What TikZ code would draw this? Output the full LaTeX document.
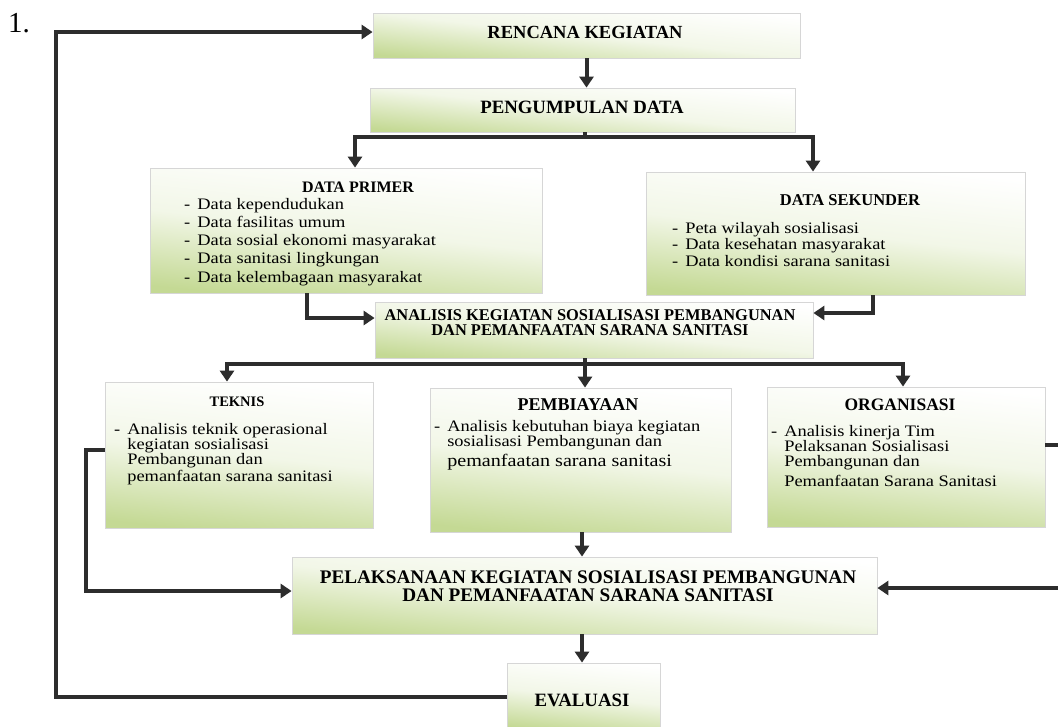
\documentclass[tikz,border=0pt]{standalone}
\usepackage{fontspec}
\setmainfont{Liberation Serif}
\newfontfamily\itemfont[FakeStretch=1.15]{Liberation Serif}
\usetikzlibrary{arrows.meta}
\definecolor{boxgreen}{RGB}{196,217,148}
\definecolor{linegray}{RGB}{45,45,45}
\tikzset{
 box/.style={rectangle, inner sep=0pt, draw=black!16, line width=0.8pt, top color=white, bottom color=boxgreen, middle color=white!78!boxgreen, shading angle=-6},
 ttl/.style={inner sep=0pt, align=center},
 items/.style={inner sep=0pt, anchor=north west, align=left},
 conn/.style={draw=linegray, line width=4pt},
 arr/.style={conn, -{Triangle[width=14pt,length=11pt]}},
}
\begin{document}
\begin{tikzpicture}[x=1pt,y=-1pt]
\useasboundingbox (0,0) rectangle (1058,726);
\clip (0,0) rectangle (1058,726);
\fill[white] (0,0) rectangle (1058,726);

% boxes
\node[box, minimum width=427pt, minimum height=45pt] (rencana) at (586.5,35.5) {};
\node[box, minimum width=425pt, minimum height=44pt] (pengumpulan) at (582.5,110) {};
\node[box, minimum width=392pt, minimum height=125pt] (primer) at (346,230.5) {};
\node[box, minimum width=379pt, minimum height=123pt] (sekunder) at (835.5,233.5) {};
\node[box, minimum width=438pt, minimum height=56pt] (analisis) at (594,330) {};
\node[box, minimum width=268pt, minimum height=146pt] (teknis) at (239,455) {};
\node[box, minimum width=301pt, minimum height=144pt] (pembiayaan) at (580.5,460) {};
\node[box, minimum width=278pt, minimum height=140pt] (organisasi) at (906,457) {};
\node[box, minimum width=585pt, minimum height=77pt] (pelaksanaan) at (584.5,595.5) {};
\node[box, minimum width=153pt, minimum height=67pt] (evaluasi) at (583.5,696.5) {};

% number
\node[inner sep=0pt, font=\fontsize{29}{29}\selectfont] (num) at (19,23) {1.};

% titles
\node[ttl, font=\bfseries\fontsize{18.5}{20}\selectfont] (trencana) at (585,32) {RENCANA KEGIATAN};
\node[ttl, font=\bfseries\fontsize{18.8}{20}\selectfont] (tpengumpulan) at (582,107) {PENGUMPULAN DATA};
\node[ttl, font=\bfseries\fontsize{16}{17}\selectfont] (tprimer) at (358,187) {DATA PRIMER};
\node[ttl, font=\bfseries\fontsize{16.5}{17}\selectfont] (tsekunder) at (850,200) {DATA SEKUNDER};
\node[ttl, font=\bfseries\fontsize{16.4}{15.5}\selectfont] (tanalisis) at (590,322.5) {ANALISIS KEGIATAN SOSIALISASI PEMBANGUNAN\\DAN PEMANFAATAN SARANA SANITASI};
\node[ttl, font=\bfseries\fontsize{14.5}{15}\selectfont] (tteknis) at (237,402) {TEKNIS};
\node[ttl, font=\bfseries\fontsize{18}{19}\selectfont] (tpembiayaan) at (578,405) {PEMBIAYAAN};
\node[ttl, font=\bfseries\fontsize{17.5}{19}\selectfont] (torganisasi) at (900,405) {ORGANISASI};
\node[ttl, font=\bfseries\fontsize{19.2}{18}\selectfont] (tpelaksanaan) at (588,586) {PELAKSANAAN KEGIATAN SOSIALISASI PEMBANGUNAN\\DAN PEMANFAATAN SARANA SANITASI};
\node[ttl, font=\bfseries\fontsize{18.8}{20}\selectfont] (tevaluasi) at (582,700) {EVALUASI};

% item lists
\node[items, font=\itemfont\fontsize{16}{18.2}\selectfont] (iprimer) at (184,198)
 {-\hspace{7pt}Data kependudukan\\
  -\hspace{7pt}Data fasilitas umum\\
  -\hspace{7pt}Data sosial ekonomi masyarakat\\
  -\hspace{7pt}Data sanitasi lingkungan\\
  -\hspace{7pt}Data kelembagaan masyarakat};
\node[items, font=\itemfont\fontsize{16}{16.5}\selectfont] (isekunder) at (672,222)
 {-\hspace{7pt}Peta wilayah sosialisasi\\
  -\hspace{7pt}Data kesehatan masyarakat\\
  -\hspace{7pt}Data kondisi sarana sanitasi};
\node[items, font=\itemfont\fontsize{16}{15}\selectfont] (iteknis) at (114,423)
 {-\hspace{7pt}Analisis teknik operasional\\
  \phantom{-}\hspace{7pt}kegiatan sosialisasi\\
  \phantom{-}\hspace{7pt}Pembangunan dan\\[2pt]
  \phantom{-}\hspace{7pt}pemanfaatan sarana sanitasi};
\node[items, font=\itemfont\fontsize{16}{14.5}\selectfont] (ipembiayaan) at (434,420)
 {-\hspace{7pt}Analisis kebutuhan biaya kegiatan\\
  \phantom{-}\hspace{7pt}sosialisasi Pembangunan dan\\[3pt]
  \phantom{-}\hspace{7pt}{\fontsize{17.5}{14.5}\selectfont pemanfaatan sarana sanitasi}};
\node[items, font=\itemfont\fontsize{16}{15}\selectfont] (iorganisasi) at (771,425)
 {-\hspace{7pt}Analisis kinerja Tim\\
  \phantom{-}\hspace{7pt}Pelaksanan Sosialisasi\\
  \phantom{-}\hspace{7pt}Pembangunan dan\\[5pt]
  \phantom{-}\hspace{7pt}Pemanfaatan Sarana Sanitasi};

% connector coordinates
\coordinate (L) at (56,0);
\coordinate (T) at (56,32);
\coordinate (b0) at (585,137);
\coordinate (bl) at (355,137);
\coordinate (br) at (813,137);
\coordinate (pa) at (307,318);
\coordinate (sa) at (873,313);
\coordinate (a0) at (585,364);
\coordinate (al) at (227,364);
\coordinate (ar) at (903,364);
\coordinate (tl) at (86,450);
\coordinate (tb) at (86,591);
\coordinate (or) at (1063,445);
\coordinate (ob) at (1063,588);
\coordinate (pm) at (582,0);

% connectors
\draw[arr] (evaluasi.west) -- (evaluasi.west -| L) -- (T) -- (T -| rencana.west);
\draw[arr] (rencana.south) -- (rencana.south |- pengumpulan.north);
\draw[conn] (pengumpulan.south -| b0) -- (b0);
\draw[arr] (b0) -- (bl) -- (bl |- primer.north);
\draw[arr] (b0) -- (br) -- (br |- sekunder.north);
\draw[arr] (primer.south -| pa) -- (pa) -- (pa -| analisis.west);
\draw[arr] (sekunder.south -| sa) -- (sa) -- (sa -| analisis.east);
\draw[conn] (analisis.south -| a0) -- (a0);
\draw[arr] (a0) -- (al) -- (al |- teknis.north);
\draw[arr] (a0) -- (ar) -- (ar |- organisasi.north);
\draw[arr] (a0) -- (a0 |- pembiayaan.north);
\draw[arr] (teknis.west |- tl) -- (tl) -- (tb) -- (tb -| pelaksanaan.west);
\draw[arr] (organisasi.east |- or) -- (or) -- (ob) -- (ob -| pelaksanaan.east);
\draw[arr] (pembiayaan.south -| pm) -- (pm |- pelaksanaan.north);
\draw[arr] (pelaksanaan.south -| pm) -- (pm |- evaluasi.north);
\end{tikzpicture}
\end{document}
